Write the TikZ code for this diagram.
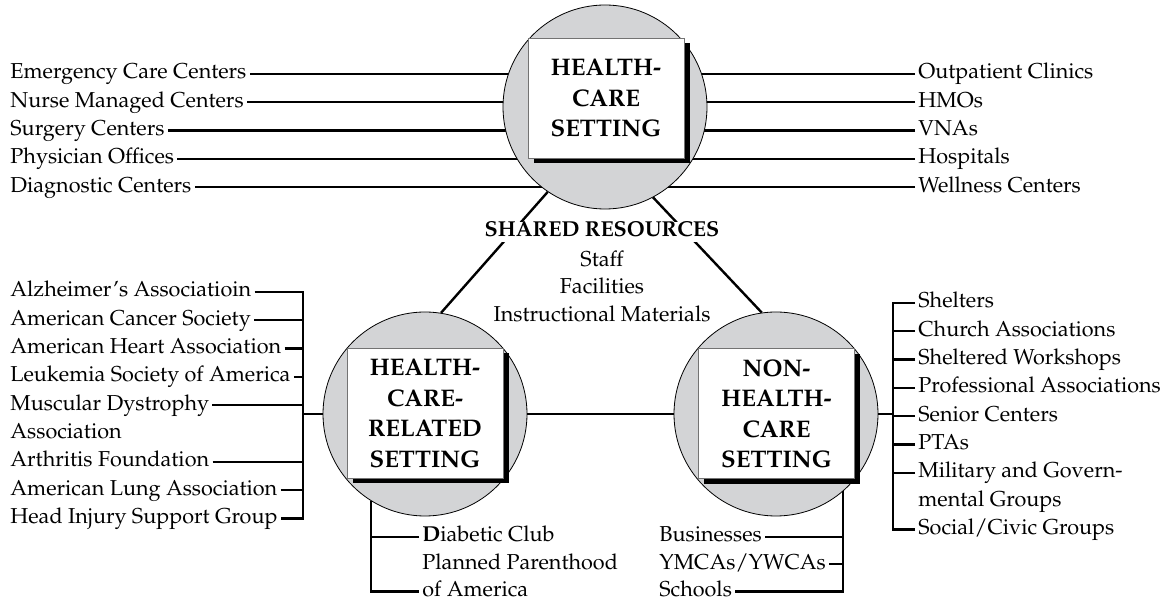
\documentclass[tikz,border=0pt]{standalone}
\usepackage[T1]{fontenc}
\usepackage{mathpazo}
\usepackage{tikz}
\usetikzlibrary{positioning,shadows,backgrounds}

\definecolor{hubgray}{RGB}{211,212,214}
\newcommand{\lstfont}{\fontsize{10.8}{13.75}\selectfont}
\newcommand{\boxfont}{\fontsize{12}{15.25}\selectfont\bfseries}

\begin{document}
\begin{tikzpicture}[x=0.5pt, y=-0.5pt, node distance=3.75pt,
			hub/.style={circle, draw, thin, fill=hubgray, minimum size=102pt, inner sep=0pt},
			setbox/.style={draw=black!55, fill=white, thin, font=\boxfont, align=center, minimum width=78pt,
				drop shadow={shadow xshift=2.75pt, shadow yshift=-2.75pt, fill=black, opacity=1}},
			item/.style={font=\lstfont, inner xsep=1.5pt, inner ysep=0pt, text height=7.5pt, text depth=2.5pt},
			link/.style={line width=1.2pt}]
			
			\useasboundingbox (0,0) rectangle (1169,604);
			
			% the three settings
			\node[hub] (hc) at (605,107) {};
			\node[hub] (hcr) at (425,414) {};
			\node[hub] (nhc) at (776,414) {};
			\node[setbox, minimum height=60pt] (hcbox) at (606,98) {HEALTH-\\CARE\\SETTING};
			\node[setbox, minimum height=65pt] (hcrbox) at (425,413) {HEALTH-\\CARE-\\RELATED\\SETTING};
			\node[setbox, minimum height=65pt] (nhcbox) at (776.5,413.5) {NON-\\HEALTH-\\CARE\\SETTING};
			
			\coordinate (lbus) at (303,414);
			\coordinate (rbus) at (893,414);
			\coordinate (dtop) at (hcr.238);
			\coordinate (btop) at (nhc.311);
			
			% shared resources
			\draw[link] (hc.236) -- (hcr.81);
			\draw[link] (hc.298) -- (nhc.98);
			\draw[link] (hcr) -- (nhc);
			\node[item, fill=white, font=\lstfont\bfseries] (shared) at (602,232) {SHARED RESOURCES};
			\node[font=\lstfont, align=center, inner sep=0pt, below=4pt of shared] (res) {Staff\\Facilities\\Instructional Materials};
			
			% health-care setting
			\node[item, anchor=west] (e1) at (7,74) {Emergency Care Centers};
			\node[item, below=of e1.south west, anchor=north west] (e2) {Nurse Managed Centers};
			\node[item, below=of e2.south west, anchor=north west] (e3) {Surgery Centers};
			\node[item, below=of e3.south west, anchor=north west] (e4) {Physician Offices};
			\node[item, below=of e4.south west, anchor=north west] (e5) {Diagnostic Centers};
			
			\node[item, anchor=west] (o1) at (915,74) {Outpatient Clinics};
			\node[item, below=of o1.south west, anchor=north west] (o2) {HMOs};
			\node[item, below=of o2.south west, anchor=north west] (o3) {VNAs};
			\node[item, below=of o3.south west, anchor=north west] (o4) {Hospitals};
			\node[item, below=of o4.south west, anchor=north west] (o5) {Wellness Centers};
			
			\begin{pgfonlayer}{background}
				\draw[link] (e1.east) -- (e1.east -| hc.center);
				\draw[link] (e2.east) -- (e2.east -| hc.center);
				\draw[link] (e3.east) -- (e3.east -| hc.center);
				\draw[link] (e4.east) -- (e4.east -| hc.center);
				\draw[link] (e5.east) -- (e5.east -| hc.center);
				\draw[link] (o1.west) -- (o1.west -| hc.center);
				\draw[link] (o2.west) -- (o2.west -| hc.center);
				\draw[link] (o3.west) -- (o3.west -| hc.center);
				\draw[link] (o4.west) -- (o4.west -| hc.center);
				\draw[link] (o5.west) -- (o5.west -| hc.center);
			\end{pgfonlayer}
			
			% health-care-related setting
			\node[item, anchor=west] (a1) at (7,292) {Alzheimer's Associatioin};
			\node[item, below=of a1.south west, anchor=north west] (a2) {American Cancer Society};
			\node[item, below=of a2.south west, anchor=north west] (a3) {American Heart Association};
			\node[item, below=of a3.south west, anchor=north west] (a4) {Leukemia Society of America};
			\node[item, below=of a4.south west, anchor=north west] (a5) {Muscular Dystrophy};
			\node[item, below=of a5.south west, anchor=north west] (a6) {Association};
			\node[item, below=of a6.south west, anchor=north west] (a7) {Arthritis Foundation};
			\node[item, below=of a7.south west, anchor=north west] (a8) {American Lung Association};
			\node[item, below=of a8.south west, anchor=north west] (a9) {Head Injury Support Group};
			
			\draw[link] (a1.east) -- (a1.east -| lbus) -- (a9.east -| lbus) -- (a9.east);
			\draw[link] (a2.east) -- (a2.east -| lbus);
			\draw[link] (a3.east) -- (a3.east -| lbus);
			\draw[link] (a4.east) -- (a4.east -| lbus);
			\draw[link] (a5.east) -- (a5.east -| lbus);
			\draw[link] (a7.east) -- (a7.east -| lbus);
			\draw[link] (a8.east) -- (a8.east -| lbus);
			\draw[link] (hcr.west) -- (lbus);
			
			\node[item, anchor=west] (d1) at (419,537) {\textbf{D}iabetic Club};
			\node[item, below=3.25pt of d1.south west, anchor=north west] (d2) {Planned Parenthood};
			\node[item, below=3.25pt of d2.south west, anchor=north west] (d3) {of America};
			
			\draw[link] (dtop) -- (d3.west -| dtop) -- (d3.west);
			\draw[link] (d1.west) -- (d1.west -| dtop);
			
			% non-health-care setting
			\node[item, anchor=west] (s1) at (915,303) {Shelters};
			\node[item, below=of s1.south west, anchor=north west] (s2) {Church Associations};
			\node[item, below=of s2.south west, anchor=north west] (s3) {Sheltered Workshops};
			\node[item, below=of s3.south west, anchor=north west] (s4) {Professional Associations};
			\node[item, below=of s4.south west, anchor=north west] (s5) {Senior Centers};
			\node[item, below=of s5.south west, anchor=north west] (s6) {PTAs};
			\node[item, below=of s6.south west, anchor=north west] (s7) {Military and Govern-};
			\node[item, below=of s7.south west, anchor=north west] (s8) {mental Groups};
			\node[item, below=of s8.south west, anchor=north west] (s9) {Social/Civic Groups};
			
			\draw[link] (s1.west) -- (s1.west -| rbus) -- (s9.west -| rbus) -- (s9.west);
			\draw[link] (s2.west) -- (s2.west -| rbus);
			\draw[link] (s3.west) -- (s3.west -| rbus);
			\draw[link] (s4.west) -- (s4.west -| rbus);
			\draw[link] (s5.west) -- (s5.west -| rbus);
			\draw[link] (s6.west) -- (s6.west -| rbus);
			\draw[link] (s7.west) -- (s7.west -| rbus);
			\draw[link] (nhc.east) -- (rbus);
			
			\node[item, anchor=west] (b1) at (656,537) {Businesses};
			\node[item, below=3.25pt of b1.south west, anchor=north west] (b2) {YMCAs/YWCAs};
			\node[item, below=3.25pt of b2.south west, anchor=north west] (b3) {Schools};
			
			\draw[link] (btop) -- (b3.east -| btop) -- (b3.east);
			\draw[link] (b1.east) -- (b1.east -| btop);
			\draw[link] (b2.east) -- (b2.east -| btop);
			
		\end{tikzpicture}
\end{document}
